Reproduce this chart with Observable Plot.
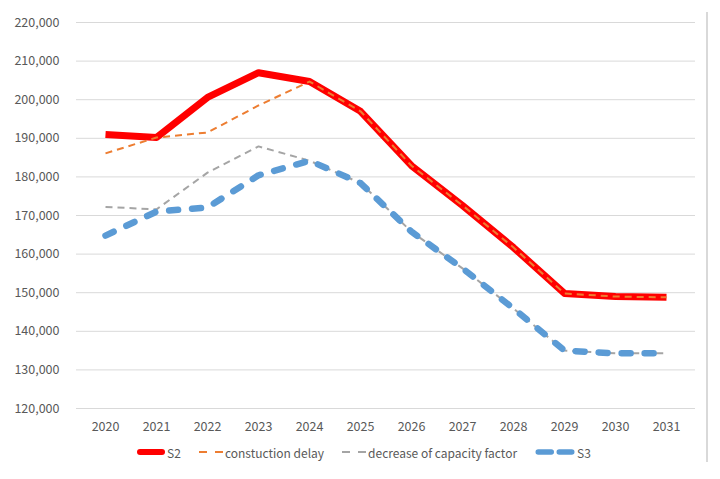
<!DOCTYPE html>
<html><head><meta charset="utf-8">
<script src="https://cdn.jsdelivr.net/npm/d3@7"></script>
<script src="https://cdn.jsdelivr.net/npm/@observablehq/plot@0.6"></script>
<style>
body{margin:0;background:#fff;font-family:"Noto Sans CJK KR","Noto Sans",sans-serif;}
#wrap{position:relative;width:720px;height:479px;overflow:hidden;}
#border{position:absolute;left:706px;top:12px;width:2px;height:450px;background:#d9d9d9;}
#legend{position:absolute;top:443px;left:0;width:720px;height:18px;display:flex;justify-content:center;align-items:center;font-size:12px;color:#595959;padding-left:8px;box-sizing:border-box;}
.item{display:flex;align-items:center;margin:0 9px;}
.item svg{display:block;margin-right:2px;}
</style>
</head><body>
<div id="wrap"><div id="chart"></div><div id="border"></div><div id="legend"></div></div>
<script>
const years = [2020, 2021, 2022, 2023, 2024, 2025, 2026, 2027, 2028, 2029, 2030, 2031];
const s2 = [191000, 190200, 200600, 207000, 204700, 197000, 182900, 172600, 161700, 149800, 149000, 148800];
const constructionDelay = [186100, 190200, 191500, 198500, 204700, 197000, 182900, 172600, 161700, 149800, 149000, 148800];
const capacityDecrease = [172200, 171600, 181100, 187900, 184200, 178400, 165800, 156300, 145900, 135000, 134300, 134300];
const s3 = [164800, 171000, 172100, 180400, 184200, 178400, 165800, 156300, 145900, 135000, 134300, 134300];
const yTicks = [120000, 130000, 140000, 150000, 160000, 170000, 180000, 190000, 200000, 210000, 220000];

const seriesNames = ["S2", "constuction delay", "decrease of capacity factor", "S3"];
const seriesValues = [s2, constructionDelay, capacityDecrease, s3];
const styles = [
  {stroke: "#ff0000", strokeWidth: 7, dash: null, cap: "butt"},
  {stroke: "#ed7d31", strokeWidth: 2, dash: "7,5", cap: "butt"},
  {stroke: "#a5a5a5", strokeWidth: 2, dash: "7,5", cap: "butt"},
  {stroke: "#5b9bd5", strokeWidth: 6.5, dash: "9,14", cap: "round"}
];
const rows = seriesNames.map((name, i) => years.map((yr, j) => ({year: yr, value: seriesValues[i][j], series: name})));

const marks = [
  Plot.ruleY(yTicks, {stroke: "#d9d9d9", strokeWidth: 1})
];
rows.forEach((data, i) => {
  const s = styles[i];
  marks.push(Plot.line(data, {
    x: "year", y: "value", stroke: s.stroke, strokeWidth: s.strokeWidth,
    strokeDasharray: s.dash, strokeLinecap: s.cap, strokeLinejoin: "round"
  }));
});

const chart = Plot.plot({
  width: 720, height: 440,
  marginLeft: 76, marginRight: 25, marginTop: 22, marginBottom: 32,
  style: {fontFamily: '"Noto Sans CJK KR","Noto Sans",sans-serif', fontSize: "12.5px", color: "#595959", background: "#fff"},
  x: {type: "point", domain: years, padding: 0.5, label: null, tickSize: 0, tickPadding: 14, tickFormat: d => String(d)},
  y: {domain: [120000, 220000], ticks: yTicks, label: null, tickSize: 0, tickPadding: 17, tickFormat: d3.format(",")},
  marks
});
document.getElementById("chart").appendChild(chart);

// legend
const legend = document.getElementById("legend");
const swW = [28, 24, 24, 40];
seriesNames.forEach((name, i) => {
  const s = styles[i];
  const w = swW[i];
  const item = document.createElement("div");
  item.className = "item";
  const ns = "http://www.w3.org/2000/svg";
  const svg = document.createElementNS(ns, "svg");
  svg.setAttribute("width", w); svg.setAttribute("height", 12);
  const ln = document.createElementNS(ns, "line");
  const pad = i === 0 ? 3 : s.cap === "round" ? s.strokeWidth / 2 : 0;
  ln.setAttribute("x1", pad); ln.setAttribute("x2", w - pad);
  ln.setAttribute("y1", 6); ln.setAttribute("y2", 6);
  ln.setAttribute("stroke", s.stroke);
  ln.setAttribute("stroke-width", i === 0 ? 6 : i === 3 ? 5.5 : 2);
  ln.setAttribute("stroke-linecap", i === 0 ? "round" : s.cap);
  if (i === 3) ln.setAttribute("stroke-dasharray", "13,8");
  else if (s.dash) ln.setAttribute("stroke-dasharray", "8,8");
  svg.appendChild(ln);
  item.appendChild(svg);
  const t = document.createElement("span");
  t.textContent = name;
  item.appendChild(t);
  legend.appendChild(item);
});
</script>
</body></html>
